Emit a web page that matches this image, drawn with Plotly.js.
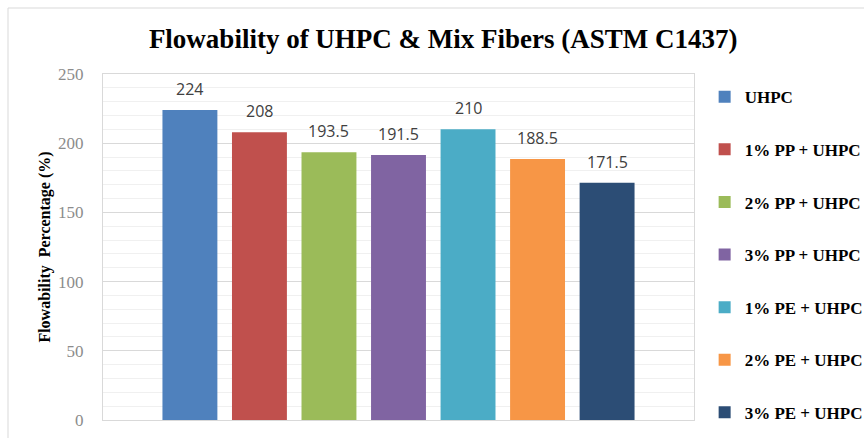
<!DOCTYPE html>
<html>
<head>
<meta charset="utf-8">
<script src="https://cdn.plot.ly/plotly-3.0.1.min.js"></script>
<style>
  html, body { margin: 0; padding: 0; background: #ffffff; }
  #chart { width: 864px; height: 438px; }
</style>
</head>
<body>
<div id="chart"></div>
<script>
// Flowability results per mix (ASTM C1437)
const mixes = ["UHPC", "1% PP + UHPC", "2% PP + UHPC", "3% PP + UHPC",
               "1% PE + UHPC", "2% PE + UHPC", "3% PE + UHPC"];
const flowability = [224, 208, 193.5, 191.5, 210, 188.5, 171.5];
const colors = ["#4f81bd", "#c0504d", "#9bbb59", "#8064a2", "#4bacc6", "#f79646", "#2c4d75"];
const yTicks = [0, 50, 100, 150, 200, 250];

const traces = mixes.map((name, i) => ({
  type: "bar",
  name: name,
  x: [i],
  y: [flowability[i]],
  width: 0.79,
  marker: { color: colors[i] },
  legendgroup: "g" + i,
  hoverinfo: "name+y"
}));

// value labels sitting above each bar
const labels = mixes.map((name, i) => ({
  x: i,
  y: flowability[i],
  xref: "x",
  yref: "y",
  text: String(flowability[i]),
  showarrow: false,
  yanchor: "bottom",
  yshift: 8,
  font: { family: "'Open Sans', sans-serif", size: 16, color: "#404040" }
}));

const serif = "'Liberation Serif', 'Times New Roman', serif";

const layout = {
  width: 864,
  height: 438,
  margin: { l: 103, r: 170, t: 74, b: 18, autoexpand: false },
  paper_bgcolor: "#ffffff",
  plot_bgcolor: "#ffffff",
  barmode: "overlay",
  title: {
    text: "<b>Flowability of UHPC &amp; Mix Fibers (ASTM C1437)</b>",
    font: { family: serif, size: 27, color: "#000000" },
    x: 0.513,
    xanchor: "center",
    y: 0.913,
    yanchor: "middle"
  },
  xaxis: {
    range: [-1.25, 7.25],
    showticklabels: false,
    ticks: "",
    showgrid: false,
    zeroline: false,
    showline: true,
    linecolor: "#d9d9d9",
    linewidth: 1,
    mirror: true,
    fixedrange: true
  },
  yaxis: {
    range: [0, 250],
    tickvals: yTicks,
    ticktext: yTicks.map(String),
    tickfont: { family: serif, size: 17, color: "#8c8c8c" },
    ticks: "",
    ticklabelstandoff: 15,
    showgrid: true,
    gridcolor: "#d9d9d9",
    gridwidth: 1,
    minor: { dtick: 10, showgrid: true, gridcolor: "#f0f0f0", gridwidth: 1 },
    zeroline: false,
    showline: true,
    linecolor: "#d9d9d9",
    linewidth: 1,
    mirror: true,
    title: {
      text: "<b>Flowability  Percentage (%)</b>",
      font: { family: serif, size: 16, color: "#000000" },
      standoff: 3
    },
    fixedrange: true
  },
  legend: {
    x: 1.018,
    xanchor: "left",
    y: 0.985,
    yanchor: "top",
    tracegroupgap: 27.5,
    itemwidth: 30,
    maxheight: 438,
    font: { family: serif, size: 17, color: "#000000", weight: "bold" },
    bgcolor: "rgba(0,0,0,0)"
  },
  annotations: labels,
  shapes: [{
    type: "rect",
    xref: "paper",
    yref: "paper",
    x0: -95 / 591,
    x1: 1.4,
    y0: -0.2,
    y1: 1 + 66 / 346,
    line: { color: "#d9d9d9", width: 1 },
    fillcolor: "rgba(0,0,0,0)"
  }],
  showlegend: true
};

Plotly.newPlot("chart", traces, layout, { displayModeBar: false, staticPlot: true });
</script>
</body>
</html>
